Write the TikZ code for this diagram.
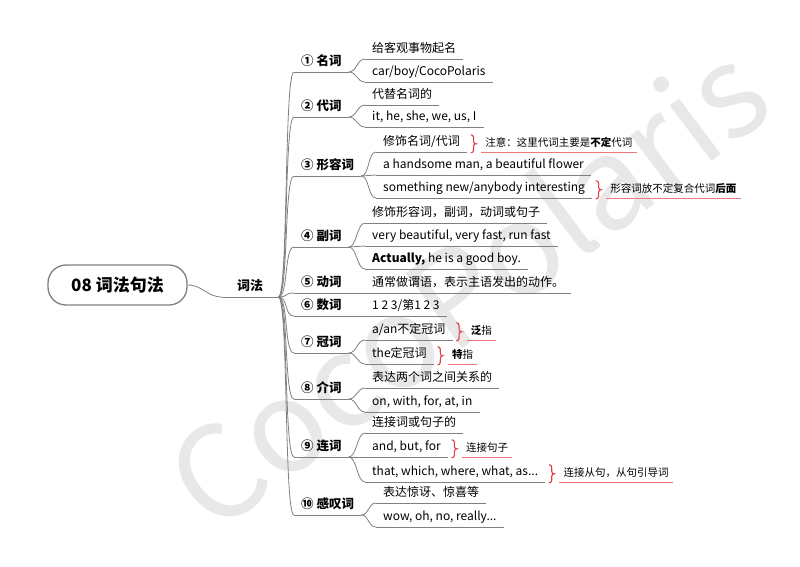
\documentclass[tikz,border=0pt]{standalone}
\usepackage{fontspec}
\setmainfont{Noto Sans CJK SC}
\usepackage{xcolor}
\usepackage{tikz}

\definecolor{linegray}{RGB}{128,128,128}
\definecolor{bracered}{RGB}{226,60,60}
\definecolor{notered}{RGB}{236,120,120}
\definecolor{wmgray}{RGB}{232,232,232}

% red summary brace beside a topic
\newcommand{\summbrace}[1]{\draw[summ,shift={(#1)}] (0,9) .. controls (3,9) and (2.5,5) .. (2.5,2) .. controls (2.5,0.5) and (4,0) .. (5,0) .. controls (4,0) and (2.5,-0.5) .. (2.5,-2) .. controls (2.5,-5) and (3,-9) .. (0,-9);}

\begin{document}
\begin{tikzpicture}[x=1pt,y=1pt,
	topic/.style={anchor=south west,inner xsep=7pt,inner ysep=3pt,text height=9pt,text depth=3pt,font=\fontsize{12}{14}\selectfont},
	cat/.style={topic,font=\fontsize{12.5}{14}\selectfont\bfseries},
	note/.style={anchor=south west,inner xsep=4pt,inner ysep=3pt,text height=8pt,text depth=2.5pt,font=\fontsize{10.5}{12}\selectfont},
	summ/.style={draw=bracered,line width=1.1pt,line cap=round},
	link/.style={draw=linegray,line width=0.8pt}]
	\useasboundingbox (0,0) rectangle (800,-566);
	% watermark
	\node[rotate=37,text=wmgray,font=\fontsize{128}{128}\selectfont] (wm) at (466,-284) {CocoPolaris};
	
	\node[draw=linegray,line width=1.3pt,fill=white,rounded corners=18pt,minimum width=139pt,minimum height=40pt,font=\fontsize{17}{20}\selectfont\bfseries] (root) at (117.5,-285) {08 词法句法};
	\node[cat,minimum width=56pt,font=\fontsize{13}{15}\selectfont\bfseries] (cifa) at (222,-297) {词法};
	
	% categories
	\node[cat] (c1) at (294,-72) {① 名词};
	\node[cat] (c2) at (294,-117) {② 代词};
	\node[cat] (c3) at (294,-176) {③ 形容词};
	\node[cat] (c4) at (294,-247) {④ 副词};
	\node[cat] (c5) at (294,-293) {⑤ 动词};
	\node[cat] (c6) at (294,-316) {⑥ 数词};
	\node[cat] (c7) at (294,-353) {⑦ 冠词};
	\node[cat] (c8) at (294,-399) {⑧ 介词};
	\node[cat] (c9) at (294,-457) {⑨ 连词};
	\node[cat] (c10) at (294,-515) {⑩ 感叹词};
	
	% items
	\node[topic] (n11) at (365,-59) {给客观事物起名};
	\node[topic] (n12) at (365,-82) {car/boy/CocoPolaris};
	\node[topic] (n21) at (365,-105) {代替名词的};
	\node[topic] (n22) at (365,-127) {it, he, she, we, us, I};
	\node[topic] (n31) at (376,-152) {修饰名词/代词};
	\node[topic] (n32) at (376,-175) {a handsome man, a beautiful flower};
	\node[topic] (n33) at (376,-198) {something new/anybody interesting};
	\node[topic] (n41) at (365,-223) {修饰形容词，副词，动词或句子};
	\node[topic] (n42) at (365,-246) {very beautiful, very fast, run fast};
	\node[topic] (n43) at (365,-269) {\textbf{Actually,} he is a good boy.};
	\node[topic] (n51) at (365,-293) {通常做谓语，表示主语发出的动作。};
	\node[topic] (n61) at (365,-316) {1 2 3/第1 2 3};
	\node[topic] (n71) at (365,-340) {a/an不定冠词};
	\node[topic] (n72) at (365,-364) {the定冠词};
	\node[topic] (n81) at (365,-388) {表达两个词之间关系的};
	\node[topic] (n82) at (365,-412) {on, with, for, at, in};
	\node[topic] (n91) at (365,-433) {连接词或句子的};
	\node[topic] (n92) at (365,-457) {and, but, for};
	\node[topic] (n93) at (365,-482) {that, which, where, what, as...};
	\node[topic] (n101) at (376,-503) {表达惊讶、惊喜等};
	\node[topic] (n102) at (376,-527) {wow, oh, no, really...};
	
	% notes
	\node[note] (a31) at ([xshift=14pt]n31.south east) {注意：这里代词主要是\textbf{不定}代词};
	\node[note] (a33) at ([xshift=14pt]n33.south east) {形容词放不定复合代词\textbf{后面}};
	\node[note] (a71) at ([xshift=14pt]n71.south east) {\textbf{泛}指};
	\node[note] (a72) at ([xshift=14pt]n72.south east) {\textbf{特}指};
	\node[note] (a92) at ([xshift=14pt]n92.south east) {连接句子};
	\node[note] (a93) at ([xshift=14pt]n93.south east) {连接从句，从句引导词};
	\foreach \n in {n31,n33,n71,n72,n92,n93}{
		\summbrace{[xshift=4pt,yshift=-1pt]\n.east}
	}
	
	% underlines
	\foreach \n in {cifa,c1,c2,c3,c4,c5,c6,c7,c8,c9,c10,n11,n12,n21,n22,n31,n32,n33,n41,n42,n43,n51,n61,n71,n72,n81,n82,n91,n92,n93,n101,n102}
	\draw[link] (\n.south west) -- (\n.south east);
	\foreach \n in {a31,a33,a71,a72,a92,a93}
	\draw[notered,line width=0.8pt] (\n.south west) -- (\n.south east);
	
	% connectors
	\draw[link] (root.east) .. controls +(15,0) and +(-15,0) .. (cifa.south west);
	\foreach \n in {c1,c2,c3,c4,c5,c6,c7,c8,c9,c10}
	\draw[link] (cifa.south east) .. controls +(10,0) and +(-10,0) .. (\n.south west);
	\foreach \p/\c in {c1/n11,c1/n12,c2/n21,c2/n22,c3/n31,c3/n32,c3/n33,c4/n41,c4/n42,c4/n43,c5/n51,c6/n61,c7/n71,c7/n72,c8/n81,c8/n82,c9/n91,c9/n92,c9/n93,c10/n101,c10/n102}
	\draw[link] (\p.south east) .. controls +(8,0) and +(-8,0) .. (\c.south west);
\end{tikzpicture}
\end{document}
